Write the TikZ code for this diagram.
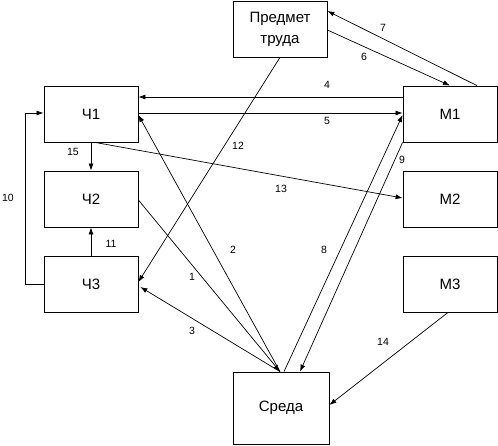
\documentclass[tikz,border=0pt]{standalone}
\usepackage{fontspec}
\setmainfont{Liberation Sans}
\usetikzlibrary{arrows.meta}
\tikzset{
  blk/.style={draw=black, line width=0.8pt, minimum width=94pt, minimum height=56pt, inner sep=0pt, font=\fontsize{15}{21}\selectfont, align=center},
  conn/.style={draw=black, line width=0.7pt, -{Latex[length=7pt,width=5pt]}},
  plain/.style={draw=black, line width=0.7pt},
  lbl/.style={font=\fontsize{10.5}{12}\selectfont, inner sep=0pt}
}
\begin{document}
\begin{tikzpicture}[x=1pt,y=-1pt]
\useasboundingbox (0,0) rectangle (498,445);
\fill[white] (0,0) rectangle (498,445);
% boxes
\node[blk] (p)  at (280,29) {Предмет\\труда};
\node[blk] (ch1) at (91,114) {Ч1};
\node[blk] (ch2) at (91,199) {Ч2};
\node[blk] (ch3) at (91,284) {Ч3};
\node[blk] (m1) at (450,114) {М1};
\node[blk] (m2) at (450,199) {М2};
\node[blk] (m3) at (450,284) {М3};
\node[blk, minimum width=96pt, minimum height=72pt] (sr) at (281,408) {Среда};
% connectors
\draw[conn] ([yshift=17]m1.west) -- ([yshift=17]ch1.east);
\draw[conn] ([yshift=1]ch1.east) -- ([yshift=1]m1.west);
\draw[conn] ([yshift=-1]p.east) -- (m1.north);
\draw[conn] ([xshift=27]m1.north) -- ([yshift=18]p.east);
\draw[conn] (p.south) -- ([yshift=2]ch3.east);
\draw[conn] ([xshift=4]ch1.south) -- ([yshift=1]m2.west);
\draw[conn] (ch1.south) -- (ch2.north);
\draw[conn] (ch3.north) -- (ch2.south);
\draw[conn] (ch3.west) -- ++(-18,0) |- ([yshift=1]ch1.west);
\draw[conn] ([yshift=-1]ch2.east) -- ([xshift=-1]sr.north);
\draw[conn] ([xshift=-1]sr.north) -- ([yshift=-1]ch1.east);
\draw[conn] ([xshift=-1]sr.north) -- ([xshift=2,yshift=-3]ch3.east);
\draw[conn] ([xshift=3]sr.north) -- ([yshift=-1]m1.west);
\draw[conn] (m1.south west) -- ([xshift=19]sr.north);
\draw[conn] ([xshift=-2]m3.south) -- ([yshift=3]sr.east);
% labels
\node[lbl] (l1) at (192,277) {1};
\node[lbl] (l2) at (233,250) {2};
\node[lbl] (l3) at (192,331) {3};
\node[lbl] (l4) at (327,85) {4};
\node[lbl] (l5) at (327,121) {5};
\node[lbl] (l6) at (364,57) {6};
\node[lbl] (l7) at (383,28) {7};
\node[lbl] (l8) at (324,250) {8};
\node[lbl] (l9) at (402,160) {9};
\node[lbl] (l10) at (8,198) {10};
\node[lbl] (l11) at (111,244) {11};
\node[lbl] (l12) at (238,146) {12};
\node[lbl] (l13) at (281,189) {13};
\node[lbl] (l14) at (383,342) {14};
\node[lbl] (l15) at (73,152) {15};
\end{tikzpicture}
\end{document}
